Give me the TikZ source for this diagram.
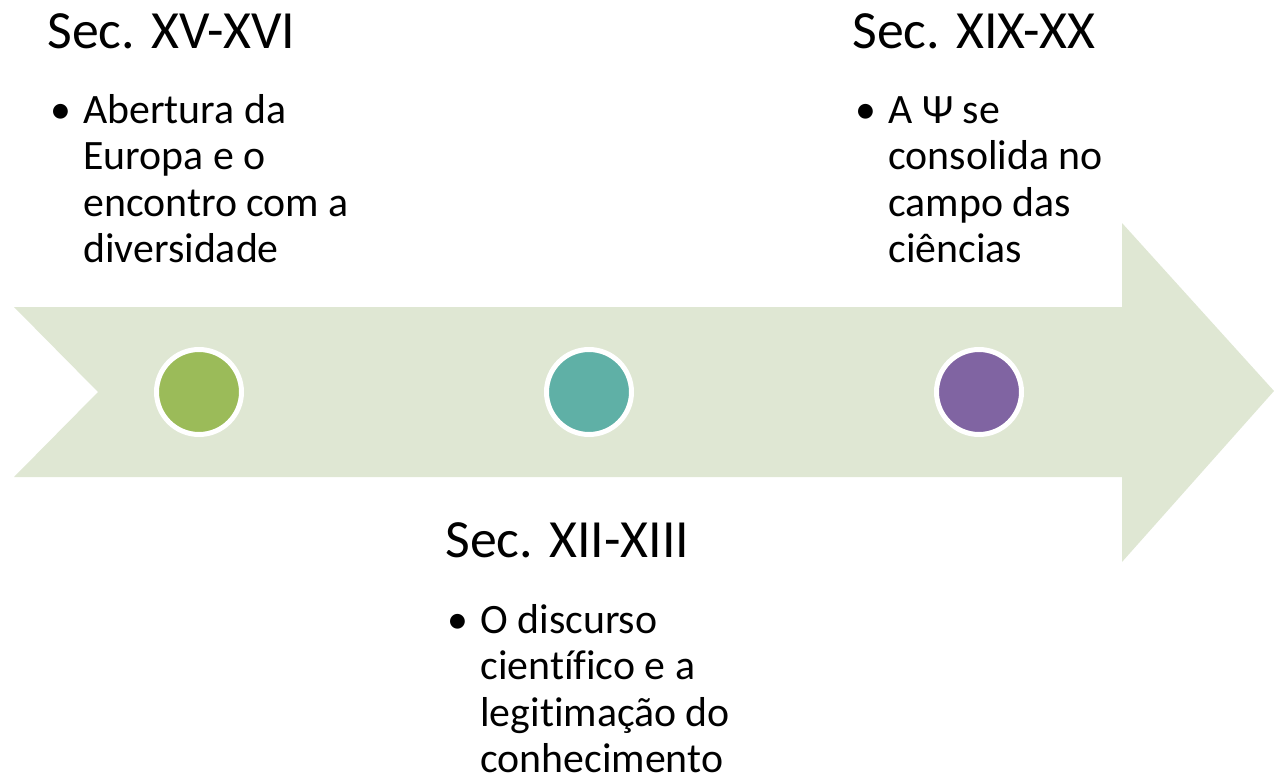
\documentclass[tikz,border=0pt]{standalone}
\usepackage{fontspec}
\setmainfont{Carlito}[Ligatures=NoCommon]
\usetikzlibrary{positioning}
\definecolor{arrowfill}{HTML}{DFE7D3}
\definecolor{dotgreen}{HTML}{9BBB59}
\definecolor{dotteal}{HTML}{5FB0A6}
\definecolor{dotpurple}{HTML}{8064A2}
\begin{document}
\begin{tikzpicture}[x=0.02cm, y=-0.02cm,
    head/.style={anchor=base west, inner sep=0, font=\fontsize{30.6}{36}\selectfont},
    item/.style={anchor=base west, inner sep=0, align=left, font=\fontsize{23.8}{26.4}\selectfont},
    dot/.style={circle, draw=white, line width=0.1cm, minimum size=1.7cm, inner sep=0}]

        \useasboundingbox (0, 0) rectangle (1274, 774);
        % big arrow
        \fill[arrowfill] (14, 307) -- (1122, 307) -- (1122, 223) -- (1274, 391)
            -- (1122, 562) -- (1122, 477) -- (14, 477) -- (98, 392) -- cycle;
        % dots
        \node[dot, fill=dotgreen] (d1) at (199, 392) {};
        \node[dot, fill=dotteal] (d2) at (589, 392) {};
        \node[dot, fill=dotpurple] (d3) at (979, 392) {};
        % headings
        \node[head] (h1) at (47, 49) {Sec. XV-XVI};
        \node[head] (h2) at (445, 557) {Sec. XII-XIII};
        \node[head] (h3) at (852, 49) {Sec. XIX-XX};
        % bullets (text nodes sit on their last line)
        \node[item] (b1) at (50, 123) {•};
        \node[item] (t1) at (83, 262.5) {Abertura da\\Europa e o\\encontro com a\\diversidade};
        \node[item] (b2) at (447, 633) {•};
        \node[item] (t2) at (480, 772.5) {O discurso\\científico e a\\legitimação do\\conhecimento};
        \node[item] (b3) at (855, 123) {•};
        \node[item] (t3) at (888, 262.5) {A Ψ se\\consolida no\\campo das\\ciências};
    \end{tikzpicture}
\end{document}
